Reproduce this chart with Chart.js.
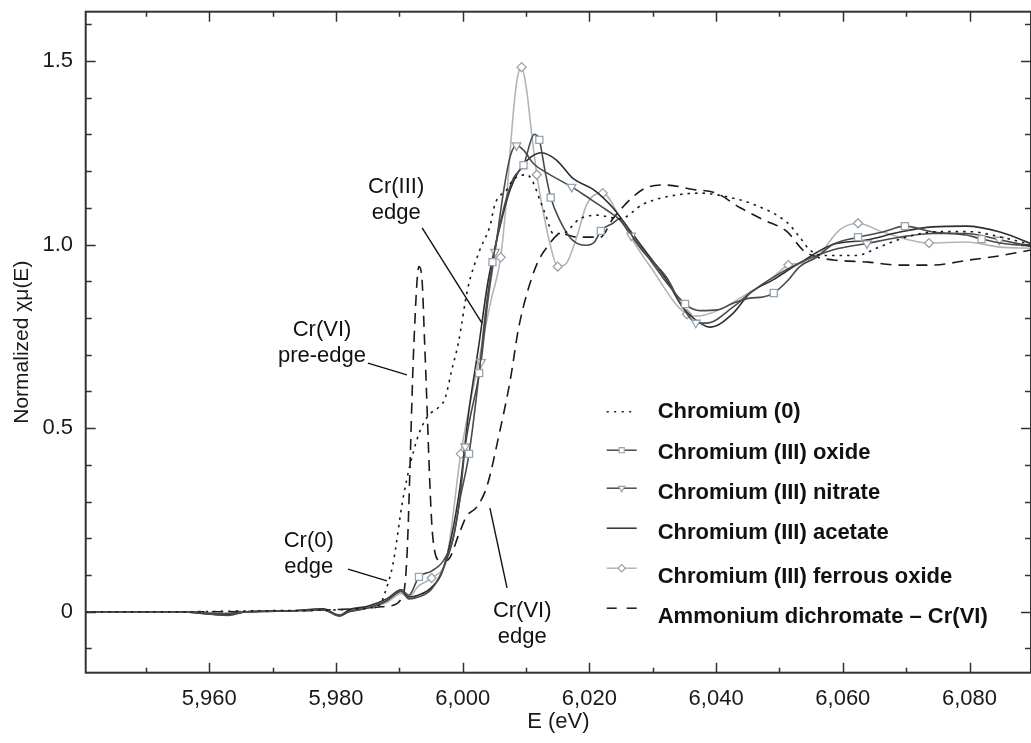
<!DOCTYPE html>
<html>
<head>
<meta charset="utf-8">
<title>Normalized XANES - chromium standards</title>
<script src="https://cdn.jsdelivr.net/npm/chart.js@4.4.1/dist/chart.umd.min.js"></script>
<style>
    html, body { margin: 0; padding: 0; background: #fff; }
    #wrap { width: 1031px; height: 743px; }
</style>
</head>
<body>
<div id="wrap"><canvas id="xanesChart" width="1031" height="743"></canvas></div>
<script>
// Axis ranges and ticks
const xMin = 5940.5;
const xMax = 6089.7;
const yMin = -0.166;
const yMax = 1.634;
const xTickValues = [5960, 5980, 6000, 6020, 6040, 6060, 6080];
const xTickLabels = ['5,960', '5,980', '6,000', '6,020', '6,040', '6,060', '6,080'];
const yTickValues = [0, 0.5, 1.0, 1.5];
const yTickLabels = ['0', '0.5', '1.0', '1.5'];
const xMinorTicks = [5950, 5960, 5970, 5980, 5990, 6000, 6010, 6020, 6030, 6040, 6050, 6060, 6070, 6080];
const yMinorTicks = [-0.1, 0, 0.1, 0.2, 0.3, 0.4, 0.5, 0.6, 0.7, 0.8, 0.9, 1.0, 1.1, 1.2, 1.3, 1.4, 1.5, 1.6];

// Chromium (0) - metal foil
const cr0E = [5940.5, 5955, 5970, 5980, 5985, 5987, 5987.7, 5989, 5990.6, 5992.8, 5994.4, 5996.4, 5997.2, 5998.3, 5999.3,
    6000.8, 6002.7, 6004.3, 6005.1, 6007.0, 6007.9, 6010.1, 6011.1, 6012.2, 6013.0, 6014.3, 6015.7, 6018.5, 6021.2,
    6024.8, 6028.5, 6032.2, 6037.5, 6041.7, 6045.8, 6051.2, 6053.2, 6054.8, 6057, 6062, 6066, 6070, 6075, 6080, 6085, 6089.7];
const cr0Mu = [0, 0, 0.003, 0.005, 0.01, 0.02, 0.05, 0.13, 0.31, 0.47, 0.53, 0.56, 0.58, 0.66, 0.73,
    0.88, 0.985, 1.05, 1.11, 1.15, 1.175, 1.19, 1.17, 1.12, 1.085, 1.03, 1.03, 1.07, 1.08,
    1.07, 1.11, 1.13, 1.14, 1.13, 1.11, 1.06, 1.02, 0.985, 0.97, 0.97, 0.995, 1.02, 1.035, 1.035, 1.02, 1.0];

// Chromium (III) oxide
const oxideE = [5940.5, 5955, 5962, 5966, 5972, 5978, 5980.6, 5982, 5985, 5988, 5990.3, 5991.5, 5993.1, 5995, 5997,
    5998.5, 5999.5, 6001.0, 6002.6, 6003.5, 6004.7, 6006.5, 6008, 6009.6, 6011.3, 6012.1, 6013.0, 6013.9, 6015.3,
    6016.9, 6018.5, 6019.5, 6020.8, 6021.8, 6023.7, 6024.8, 6026.9, 6029.6, 6032.3, 6035.1, 6037.5, 6040.2, 6042.7,
    6045.3, 6047.4, 6049.1, 6051.2, 6053.2, 6055.9, 6058.4, 6062.4, 6066.3, 6069.8, 6074.2, 6079.5, 6081.9, 6087.5, 6089.7];
const oxideMu = [0, 0, -0.005, 0, 0.002, 0.005, -0.01, 0, 0.01, 0.03, 0.06, 0.045, 0.095, 0.11, 0.14,
    0.2, 0.3, 0.43, 0.65, 0.8, 0.952, 1.1, 1.18, 1.216, 1.3, 1.285, 1.2, 1.128, 1.067,
    1.02, 1.0, 0.998, 1.007, 1.037, 1.058, 1.07, 1.02, 0.958, 0.894, 0.838, 0.82, 0.822, 0.84,
    0.854, 0.857, 0.868, 0.9, 0.94, 0.966, 1.0, 1.02, 1.034, 1.05, 1.034, 1.026, 1.015, 0.999, 1.0];
const oxideMarks = [12, 17, 18, 20, 23, 25, 27, 33, 39, 45, 50, 52, 55];

// Chromium (III) nitrate
const nitrateE = [5940.5, 5955, 5963, 5966, 5972, 5978, 5980.6, 5982, 5985, 5988, 5990.3, 5991.5, 5993, 5995, 5997,
    5998.5, 5999.5, 6000.4, 6002.9, 6004, 6005.1, 6006.5, 6007.5, 6008.5, 6009.6, 6011.2, 6013.3, 6017.2, 6019.6,
    6022.7, 6024.8, 6026.6, 6028.5, 6032.2, 6034.7, 6036.8, 6038.5, 6042.7, 6045.3, 6048.9, 6053.2, 6058.4, 6063.8,
    6069, 6074.2, 6079.5, 6084.7, 6089.7];
const nitrateMu = [0, 0, -0.01, 0, 0.002, 0.005, -0.012, 0, 0.01, 0.03, 0.055, 0.035, 0.04, 0.06, 0.12,
    0.2, 0.3, 0.45, 0.68, 0.85, 0.98, 1.15, 1.24, 1.27, 1.257, 1.22, 1.195, 1.157, 1.13,
    1.094, 1.067, 1.024, 0.98, 0.91, 0.83, 0.787, 0.786, 0.83, 0.867, 0.91, 0.95, 0.985, 1.003,
    1.02, 1.03, 1.03, 1.013, 0.995];
const nitrateMarks = [17, 18, 20, 23, 27, 31, 35, 42, 46];

// Chromium (III) acetate
const acetateE = [5940.5, 5955, 5962, 5966, 5972, 5978, 5980.6, 5982, 5985, 5988, 5990.3, 5991.5, 5993, 5995, 5997,
    5999.5, 6001, 6002.5, 6004, 6005.9, 6007.5, 6009.2, 6010.9, 6012.4, 6014.8, 6017.4, 6020.6, 6023.7, 6026,
    6028.5, 6032.2, 6034.7, 6037.5, 6039.1, 6042.7, 6045.3, 6048.9, 6053.2, 6058.4, 6063.7, 6069, 6074.2, 6079.5,
    6084.8, 6089.7];
const acetateMu = [0, 0, -0.008, 0, 0.002, 0.008, -0.01, 0.005, 0.015, 0.035, 0.06, 0.04, 0.045, 0.065, 0.12,
    0.33, 0.55, 0.72, 0.9, 1.05, 1.15, 1.21, 1.24, 1.25, 1.23, 1.18, 1.15, 1.10, 1.048,
    0.99, 0.903, 0.83, 0.786, 0.775, 0.813, 0.867, 0.903, 0.95, 1.0, 1.012, 1.034, 1.048, 1.05,
    1.034, 1.003];

// Chromium (III) ferrous oxide
const ferrousE = [5940.5, 5955, 5962, 5966, 5972, 5978, 5980.6, 5982, 5985, 5988, 5990.3, 5991.5, 5993, 5995.1, 5997.5,
    5999.7, 6002.5, 6004.5, 6006.0, 6006.9, 6007.7, 6008.5, 6009.3, 6010.1, 6010.9, 6011.7, 6012.7, 6013.8, 6015.0,
    6016.4, 6018.0, 6019.6, 6022.1, 6024.8, 6026.9, 6029.6, 6035.4, 6037, 6040.2, 6045.3, 6048.9, 6051.4, 6053.7,
    6055.9, 6059.5, 6062.4, 6066.3, 6073.6, 6079.5, 6084.8, 6089.7];
const ferrousMu = [0, 0, -0.005, 0, 0.002, 0.005, -0.008, 0.002, 0.01, 0.025, 0.05, 0.04, 0.07, 0.092, 0.15,
    0.43, 0.68, 0.85, 0.965, 1.12, 1.30, 1.44, 1.483, 1.42, 1.30, 1.19, 1.09, 1.0, 0.94,
    0.95, 1.02, 1.11, 1.14, 1.075, 1.01, 0.94, 0.81, 0.805, 0.82, 0.87, 0.91, 0.944, 0.95,
    0.966, 1.04, 1.058, 1.034, 1.004, 1.007, 0.993, 0.99];
const ferrousMarks = [13, 15, 18, 22, 25, 28, 32, 36, 41, 45, 47];

// Ammonium dichromate - Cr(VI)
const dichromateE = [5940.5, 5960, 5975, 5985, 5988, 5990.5, 5991.2, 5992.3, 5993.1, 5993.6, 5994.0, 5995.3, 5996.4,
    5997.5, 5999.6, 6000.6, 6002.2, 6003.8, 6005.9, 6007.5, 6008.8, 6010.2, 6011.8, 6013.4, 6015.5, 6018, 6021.7,
    6023.7, 6026.9, 6029, 6032, 6036.4, 6040, 6043.8, 6047.5, 6051.2, 6053.7, 6055.9, 6058.5, 6064, 6069, 6074,
    6080, 6085, 6089.7];
const dichromateMu = [0, 0, 0.003, 0.01, 0.015, 0.04, 0.15, 0.73, 0.94, 0.9, 0.73, 0.2, 0.14,
    0.14, 0.22, 0.26, 0.285, 0.34, 0.495, 0.63, 0.77, 0.87, 0.95, 0.995, 1.03, 1.02, 1.02,
    1.07, 1.13, 1.155, 1.162, 1.15, 1.14, 1.10, 1.067, 1.035, 0.985, 0.966, 0.958, 0.952, 0.944, 0.944,
    0.958, 0.97, 0.985];

const FONT = '"Liberation Sans", Arial, Helvetica, sans-serif';
const MARK_EDGE = '#97a3ae';

// One entry per curve: data arrays plus how it is drawn
const series = [
    { label: 'Chromium (0)', e: cr0E, mu: cr0Mu, color: '#1a1a1a', width: 1.6, dash: [2.5, 5], marks: [], legendDash: [2, 5.5] },
    { label: 'Chromium (III) oxide', e: oxideE, mu: oxideMu, color: '#4a4a4a', width: 1.6, dash: [], marks: oxideMarks, shape: 'rect', radius: 5 },
    { label: 'Chromium (III) nitrate', e: nitrateE, mu: nitrateMu, color: '#4a4a4a', width: 1.6, dash: [], marks: nitrateMarks, shape: 'triangle', rotation: 180, radius: 5 },
    { label: 'Chromium (III) acetate', e: acetateE, mu: acetateMu, color: '#2e2e2e', width: 1.6, dash: [], marks: [] },
    { label: 'Chromium (III) ferrous oxide', e: ferrousE, mu: ferrousMu, color: '#b4b4b4', width: 1.6, dash: [], marks: ferrousMarks, shape: 'rectRot', radius: 4.5 },
    { label: 'Ammonium dichromate \u2013 Cr(VI)', e: dichromateE, mu: dichromateMu, color: '#1a1a1a', width: 1.6, dash: [11, 7], marks: [], legendDash: [10, 10] }
];

// Callout labels, anchored in data units (E, mu)
const notes = [
    { lines: ['Cr(III)', 'edge'], at: [5989.5, 1.121], from: [5993.6, 1.045], to: [6003.05, 0.786] },
    { lines: ['Cr(VI)', 'pre-edge'], at: [5977.8, 0.732], from: [5985.05, 0.677], to: [5991.2, 0.645] },
    { lines: ['Cr(0)', 'edge'], at: [5975.7, 0.157], from: [5981.9, 0.116], to: [5988.05, 0.084] },
    { lines: ['Cr(VI)', 'edge'], at: [6009.4, -0.034], from: [6007.0, 0.065], to: [6004.3, 0.282] }
];

// Frame with inward ticks on all four sides
const framePlugin = {
    id: 'frame',
    afterDatasetsDraw(chart) {
        const { ctx, chartArea: a, scales: { x, y } } = chart;
        ctx.save();
        ctx.strokeStyle = '#333';
        ctx.lineWidth = 1.5;
        ctx.beginPath();
        xMinorTicks.forEach(v => {
            const px = Math.round(x.getPixelForValue(v)) + 0.5;
            const len = xTickValues.includes(v) ? 10 : 5;
            ctx.moveTo(px, a.bottom); ctx.lineTo(px, a.bottom - len);
            ctx.moveTo(px, a.top); ctx.lineTo(px, a.top + len);
        });
        yMinorTicks.forEach(v => {
            const py = Math.round(y.getPixelForValue(v)) + 0.5;
            const len = yTickValues.some(t => Math.abs(t - v) < 1e-6) ? 10 : 6;
            ctx.moveTo(a.left, py); ctx.lineTo(a.left + len, py);
            ctx.moveTo(a.right, py); ctx.lineTo(a.right - len, py);
        });
        ctx.stroke();
        ctx.lineWidth = 2;
        ctx.strokeRect(a.left, a.top, a.right - a.left, a.bottom - a.top);
        ctx.restore();
    },
    afterDraw(chart) {
        const { ctx, chartArea: a, scales: { x, y } } = chart;
        ctx.save();

        // callouts
        ctx.font = '22px ' + FONT;
        ctx.fillStyle = '#111';
        ctx.textAlign = 'center';
        ctx.textBaseline = 'middle';
        ctx.strokeStyle = '#111';
        ctx.lineWidth = 1.4;
        notes.forEach(n => {
            const cx = x.getPixelForValue(n.at[0]);
            const cy = y.getPixelForValue(n.at[1]);
            n.lines.forEach((t, i) => ctx.fillText(t, cx, cy + (i - (n.lines.length - 1) / 2) * 26));
            ctx.beginPath();
            ctx.moveTo(x.getPixelForValue(n.from[0]), y.getPixelForValue(n.from[1]));
            ctx.lineTo(x.getPixelForValue(n.to[0]), y.getPixelForValue(n.to[1]));
            ctx.stroke();
        });

        // legend inside the plot, lower right
        const symY = [400, 438.5, 476.5, 516.5, 556.5, 596.5];
        const textY = [400, 441.5, 481.5, 521.5, 565.5, 605.5];
        const sx0 = a.left + 521, sx1 = a.left + 551, tx = a.left + 572;
        ctx.font = 'bold 22px ' + FONT;
        ctx.textAlign = 'left';
        series.forEach((s, i) => {
            const sy = a.top + symY[i];
            ctx.strokeStyle = s.color;
            ctx.lineWidth = 1.5;
            ctx.setLineDash(s.legendDash || s.dash);
            ctx.beginPath();
            ctx.moveTo(sx0, sy); ctx.lineTo(sx1, sy);
            ctx.stroke();
            ctx.setLineDash([]);
            if (s.shape) {
                ctx.fillStyle = '#fff';
                ctx.strokeStyle = MARK_EDGE;
                ctx.lineWidth = 1.2;
                Chart.helpers.drawPoint(ctx, { pointStyle: s.shape, radius: 3.6, rotation: s.rotation || 0, borderWidth: 1.2 }, (sx0 + sx1) / 2, sy);
            }
            ctx.fillStyle = '#111';
            ctx.fillText(s.label, tx, a.top + textY[i]);
        });
        ctx.restore();
    }
};

function buildDatasets() {
    return series.map(s => ({
        label: s.label,
        data: s.e.map((e, i) => ({ x: e, y: s.mu[i] })),
        borderColor: s.color,
        borderWidth: s.width,
        borderDash: s.dash,
        cubicInterpolationMode: 'monotone',
        pointStyle: s.shape || 'circle',
        rotation: s.rotation || 0,
        radius: ctx => s.marks.includes(ctx.dataIndex) ? s.radius : 0,
        pointBackgroundColor: '#fff',
        pointBorderColor: MARK_EDGE,
        pointBorderWidth: 1.3,
        hoverRadius: 0
    }));
}

// drop the label-overflow padding so the frame sits where the reference has it
function noEdgePadding(sc) {
    sc.paddingTop = 0;
    sc.paddingBottom = 0;
    sc.paddingLeft = 0;
    sc.paddingRight = 0;
}

const ctx = document.getElementById('xanesChart').getContext('2d');
const chart = new Chart(ctx, {
    type: 'line',
    data: { datasets: buildDatasets() },
    options: {
        responsive: false,
        animation: false,
        events: [],
        layout: { padding: { top: 11.7, right: 0, left: 0, bottom: 0 } },
        plugins: { legend: { display: false }, tooltip: { enabled: false } },
        scales: {
            x: {
                type: 'linear',
                min: xMin,
                max: xMax,
                grid: { display: false, drawTicks: false },
                border: { display: false },
                afterBuildTicks: sc => { sc.ticks = xTickValues.map(v => ({ value: v })); },
                afterFit: sc => { sc.height = 70.3; noEdgePadding(sc); },
                ticks: {
                    callback: (v, i) => xTickLabels[i],
                    font: { family: FONT, size: 22 },
                    color: '#1a1a1a',
                    padding: 13,
                    maxRotation: 0,
                    autoSkip: false
                },
                title: {
                    display: true,
                    text: 'E (eV)',
                    font: { family: FONT, size: 22 },
                    color: '#1a1a1a',
                    padding: { top: 0, bottom: 8 }
                }
            },
            y: {
                type: 'linear',
                min: yMin,
                max: yMax,
                grid: { display: false, drawTicks: false },
                border: { display: false },
                afterBuildTicks: sc => { sc.ticks = yTickValues.map(v => ({ value: v })); },
                afterFit: sc => { sc.width = 85.7; noEdgePadding(sc); },
                ticks: {
                    callback: (v, i) => yTickLabels[i],
                    font: { family: FONT, size: 22 },
                    color: '#1a1a1a',
                    padding: 12.7
                },
                title: {
                    display: true,
                    text: 'Normalized \u03c7\u03bc(E)',
                    font: { family: FONT, size: 21 },
                    color: '#1a1a1a',
                    padding: { top: 9.4, bottom: 0 }
                }
            }
        }
    },
    plugins: [framePlugin]
});
</script>
</body>
</html>
